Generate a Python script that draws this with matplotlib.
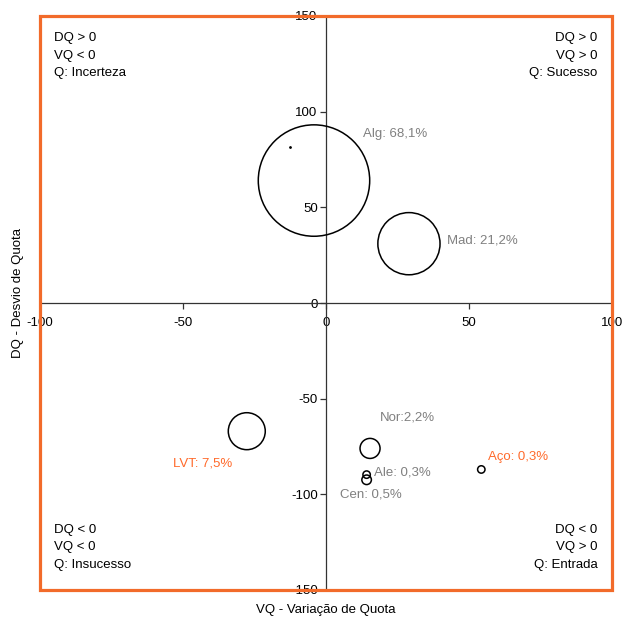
import matplotlib
matplotlib.use("Agg")
import matplotlib.pyplot as plt
from matplotlib.patches import Rectangle

plt.rcParams['font.family'] = ['Liberation Sans', 'DejaVu Sans']
plt.rcParams['axes.unicode_minus'] = False

# regions: VQ (x), DQ (y), share of quota (%) -> bubble area
regions = ['Alg', 'Mad', 'LVT', 'Nor', 'Ale', 'Cen', 'Aço']
vq = [-4.2, 29.0, -27.7, 15.4, 14.2, 14.2, 54.3]
dq = [64.0, 31.0, -67.0, -76.0, -89.7, -92.4, -87.0]
share = [68.1, 21.2, 7.5, 2.2, 0.3, 0.5, 0.3]
labels = ['Alg: 68,1%', 'Mad: 21,2%', 'LVT: 7,5%', 'Nor:2,2%',
          'Ale: 0,3%', 'Cen: 0,5%', 'Aço: 0,3%']
label_x = [12.8, 42.2, -53.4, 18.9, 16.8, 4.9, 56.7]
label_y = [88.5, 32.8, -84.1, -60.0, -88.5, -100.2, -80.3]
label_col = ['#808080', '#808080', '#FF6A2B', '#808080', '#808080', '#808080', '#FF6A2B']

# stray point in the original chart
dot_x = [-12.6]
dot_y = [81.7]

quadrants = [
    (-100, 150, 'left', 'top', 'DQ > 0\nVQ < 0\nQ: Incerteza'),
    (100, 150, 'right', 'top', 'DQ > 0\nVQ > 0\nQ: Sucesso'),
    (-100, -150, 'left', 'bottom', 'DQ < 0\nVQ < 0\nQ: Insucesso'),
    (100, -150, 'right', 'bottom', 'DQ < 0\nVQ > 0\nQ: Entrada'),
]

x_ticks = [-100, -50, 0, 50, 100]
y_ticks = [-150, -100, -50, 0, 50, 100, 150]

fig = plt.figure(figsize=(6.24, 6.18), dpi=100)
ax = fig.add_axes([40 / 624, 1 - 590 / 618, 572 / 624, 574 / 618])

ax.set_xlim(-100, 100)
ax.set_ylim(-150, 150)

sizes = [s * 94.5 for s in share]
ax.scatter(vq, dq, s=sizes, facecolors='none', edgecolors='black', linewidths=1.1, zorder=3)
ax.scatter(dot_x, dot_y, s=1, color='black', zorder=3)

for lx, ly, t, c in zip(label_x, label_y, labels, label_col):
    ax.text(lx, ly, t, color=c, fontsize=9.5, ha='left', va='center')

for qx, qy, ha, va, t in quadrants:
    dx = 5 if ha == 'left' else -5
    dy = -8.5 if va == 'top' else 10
    ax.text(qx + dx, qy + dy, t, ha=ha, va=va, fontsize=9.5, linespacing=1.6)

# axes crossing at the origin
ax.spines['left'].set_position(('data', 0))
ax.spines['bottom'].set_position(('data', 0))
ax.spines['right'].set_visible(False)
ax.spines['top'].set_visible(False)
for sp in ['left', 'bottom']:
    ax.spines[sp].set_color('#333333')
    ax.spines[sp].set_linewidth(0.9)

ax.set_xticks(x_ticks)
ax.set_yticks(y_ticks)
ax.tick_params(axis='both', labelsize=9.5, length=4, width=0.9, color='#333333', direction='out')
ax.tick_params(axis='y', pad=2)
ax.tick_params(axis='x', pad=6)

# orange frame around the plot area
frame = Rectangle((0, 0), 1, 1, transform=ax.transAxes, fill=False,
                  edgecolor='#F26B2A', linewidth=2.3, clip_on=False, zorder=10)
ax.add_patch(frame)

fig.text(18 / 624, 1 - 293 / 618, 'DQ - Desvio de Quota', rotation=90,
         ha='center', va='center', fontsize=9.5)
fig.text(326 / 624, 1 - 610 / 618, 'VQ - Variação de Quota',
         ha='center', va='center', fontsize=9.5)

fig.savefig('out.png', dpi=100)
